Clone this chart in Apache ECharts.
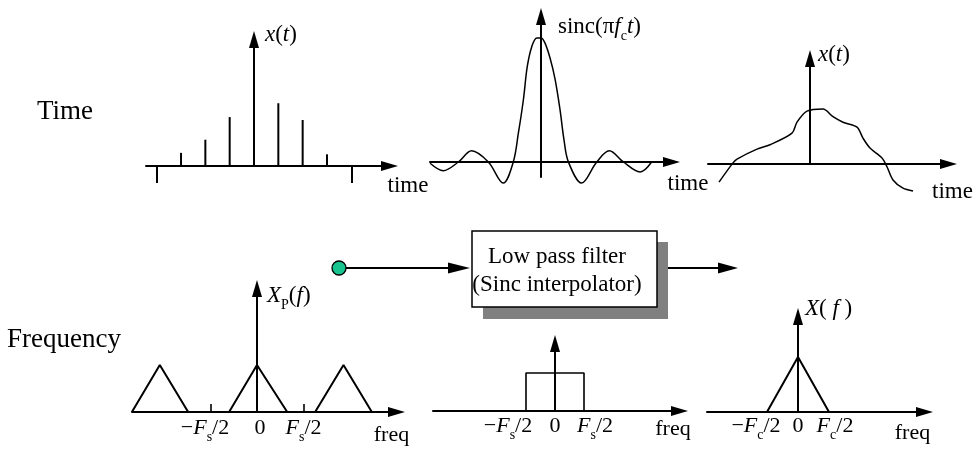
<!DOCTYPE html>
<html>
<head>
<meta charset="utf-8">
<script src="https://cdn.jsdelivr.net/npm/echarts@6/dist/echarts.min.js"></script>
<style>
  html, body { margin: 0; padding: 0; background: #fff; }
  #chart { width: 980px; height: 449px; }
</style>
</head>
<body>
<div id="chart"></div>
<script>
// ---------- time domain ----------
// sampled sequence x[n]
const sampleTimes   = [-3, -2, -1, 0, 1, 2, 3];
const sampleHeights = [0.18, 0.36, 0.67, 1.0, 0.86, 0.63, 0.16];
const sampleEdgeMarks = [-4, 4];

// sinc interpolation kernel (time in units of 1/fc)
const sincTimes  = [-3.96, -3.49, -2.95, -2.48, -1.88, -1.35, -0.99, -0.81, -0.63, -0.49, -0.33, -0.15, 0,
                    0.14, 0.32, 0.5, 0.68, 0.82, 0.98, 1.45, 1.99, 2.44, 2.94, 3.54, 3.95];
const sincValues = [-0.01, -0.07, 0, 0.09, 0, -0.17, 0, 0.23, 0.5, 0.77, 0.93, 1.0, 1.0,
                    0.96, 0.84, 0.67, 0.42, 0.18, 0, -0.17, 0, 0.09, 0, -0.08, 0];

// reconstructed continuous signal x(t)
const signalTimes  = [-4.55, -3.85, -3.65, -2.65, -2.0, -0.9, -0.65, -0.15, 0.65, 1.15, 1.65,
                      2.35, 2.65, 3.0, 3.6, 3.85, 4.15, 4.65, 5.15];
const signalValues = [-0.33, 0.02, 0.09, 0.27, 0.35, 0.56, 0.76, 0.96, 1.0, 0.86, 0.76,
                      0.67, 0.47, 0.29, 0.11, -0.05, -0.29, -0.44, -0.49];

// ---------- frequency domain ----------
// spectrum of the sampled signal (frequency in units of Fs/2), null separates the images
const sampledFreqs = [-2.69, -2.09, -1.48, null, -0.6, 0, 0.65, null, 1.25, 1.86, 2.47];
const sampledMags  = [0, 1, 0, null, 0, 1, 0, null, 0, 1, 0];
const sampledTicks = [-1, 1];
const sampledLabelValues = [-1, 0, 1];
const sampledLabels = ['{n|−}{i|F}{s|s}{n|/2}', '{n|0}', '{i|F}{s|s}{n|/2}'];

// ideal low-pass response (frequency in units of Fs/2)
const filterFreqs = [-1, -1, 1, 1];
const filterGain  = [0, 1, 1, 0];
const filterLabelValues = [-1, 0, 1];
const filterLabels = ['{n|−}{i|F}{s|s}{n|/2}', '{n|0}', '{i|F}{s|s}{n|/2}'];

// spectrum of the original signal (frequency in units of Fc/2)
const outputFreqs = [-1, 0, 1];
const outputMags  = [0, 1, 0];
const outputLabelValues = [-1, 0, 1];
const outputLabels = ['{n|−}{i|F}{s|c}{n|/2}', '{n|0}', '{i|F}{s|c}{n|/2}'];

// ---------- styling helpers ----------
const SERIF = '"Liberation Serif", "Times New Roman", serif';
const INK = '#000';

function richStyles(size) {
  const base = { fontFamily: SERIF, fontSize: size, lineHeight: size, color: INK,
                 verticalAlign: 'bottom', padding: [0, 0, 5, 0] };
  return {
    n: Object.assign({}, base),
    i: Object.assign({}, base, { fontStyle: 'italic' }),
    s: { fontFamily: SERIF, fontSize: Math.round(size * 0.62), lineHeight: Math.round(size * 0.62),
         color: INK, verticalAlign: 'bottom' }
  };
}

function pairs(xs, ys) {
  return xs.map((x, k) => (x === null ? '-' : [x, ys[k]]));
}

// tick labels that sit slightly off their value: an invisible spacer pushes them sideways
function shiftedLabels(values, labels, shifts, size) {
  const rich = richStyles(size);
  shifts.forEach((d, k) => {
    if (d) rich['g' + k] = { width: Math.abs(d) * 2, fontSize: 1 };
  });
  return {
    rich,
    formatter: v => {
      const k = values.indexOf(v);
      if (k < 0) return '';
      const d = shifts[k];
      if (!d) return labels[k];
      const gap = '{g' + k + '|\u00a0}';
      return d < 0 ? labels[k] + gap : gap + labels[k];
    }
  };
}

const axisLineStyle = { color: INK, width: 2 };

// panel frames in pixels and their data ranges
const frames = [
  { left: 146, top: 39.5, right: 389.5, bottom: 166, x: [-4.44, 5.57], y: [0, 1.733] },
  { left: 430, top: 16.5, right: 671.5, bottom: 177, x: [-3.964, 4.66], y: [-0.121, 1.173] },
  { left: 708, top: 58.5, right: 948.5, bottom: 164, x: [-5.1, 6.925], y: [0, 1.918] },
  { left: 132, top: 288.5, right: 396.5, bottom: 412, x: [-2.688, 3.0], y: [0, 2.628] },
  { left: 433, top: 343.5, right: 679.5, bottom: 411, x: [-4.207, 4.293], y: [0, 1.776] },
  { left: 707, top: 316.5, right: 924.5, bottom: 412, x: [-2.935, 4.08], y: [0, 1.736] }
];

const grids = frames.map(f => ({
  left: f.left, top: f.top, width: f.right - f.left, height: f.bottom - f.top,
  containLabel: false, outerBoundsMode: 'none', show: false
}));

function xAxisFor(i, extra) {
  const f = frames[i];
  return Object.assign({
    type: 'value', gridIndex: i, min: f.x[0], max: f.x[1],
    axisLine: { show: true, onZero: true, symbol: ['none', 'triangle'], symbolSize: [10, 17], lineStyle: axisLineStyle },
    axisTick: { show: false }, axisLabel: { show: false }, splitLine: { show: false },
    nameLocation: 'end', nameMoveOverlap: false
  }, extra);
}
function yAxisFor(i, extra) {
  const f = frames[i];
  return Object.assign({
    type: 'value', gridIndex: i, min: f.y[0], max: f.y[1],
    axisLine: { show: true, onZero: true, symbol: ['none', 'triangle'], symbolSize: [10, 17], lineStyle: axisLineStyle },
    axisTick: { show: false }, axisLabel: { show: false }, splitLine: { show: false },
    nameLocation: 'end', nameMoveOverlap: false
  }, extra);
}

// axis name placed below-left of the arrow tip
function belowName(text, size, gap, drop) {
  return { name: '{t|' + text + '}', nameGap: gap,
           nameTextStyle: { align: 'center', verticalAlign: 'middle',
                            rich: { t: { fontFamily: SERIF, fontSize: size, lineHeight: size, color: INK,
                                         padding: [drop * 2, 0, 0, 0] } } } };
}
// axis name placed right of the vertical arrow tip
function sideName(text, size, gap, dx) {
  return { name: text, nameGap: gap,
           nameTextStyle: { align: 'left', verticalAlign: 'middle', padding: [0, 0, 0, dx], rich: richStyles(size) } };
}

function labelSet(values, labels, shifts, margin) {
  return Object.assign({ show: true, customValues: values, margin: margin,
                         showMinLabel: true, showMaxLabel: true, hideOverlap: false },
                       shiftedLabels(values, labels, shifts, 22));
}

const xAxes = [
  xAxisFor(0, Object.assign(belowName('time', 23, 18.5, 20), {
    axisTick: { show: true, customValues: sampleEdgeMarks, length: 17, inside: false, lineStyle: { color: INK, width: 2 } }
  })),
  xAxisFor(1, belowName('time', 23, 16.5, 22)),
  xAxisFor(2, belowName('time', 23, 4, 28)),
  xAxisFor(3, Object.assign(belowName('freq', 22, -5, 23), {
    axisTick: { show: true, customValues: sampledTicks, length: 8, inside: true, lineStyle: { color: INK, width: 1.6 } },
    axisLabel: labelSet(sampledLabelValues, sampledLabels, [-5.5, 3, 0], 10)
  })),
  // the filter panel's labels sit wide of the passband edges; they are placed below from this axis' scale
  xAxisFor(4, belowName('freq', 22, -6.5, 18)),
  xAxisFor(5, Object.assign(belowName('freq', 22, -12, 21), {
    axisLabel: labelSet(outputLabelValues, outputLabels, [-11, 0, 6], 8)
  }))
];

const yAxes = [
  yAxisFor(0, sideName('{i|x}{n|(}{i|t}{n|)}', 23, -0.5, 11)),
  yAxisFor(1, sideName('{n|sinc(π}{i|f}{s|c}{i|t}{n|)}', 23, -15, 17)),
  yAxisFor(2, sideName('{i|x}{n|(}{i|t}{n|)}', 23, -1.5, 8)),
  yAxisFor(3, sideName('{i|X}{s|P}{n|(}{i|f}{n|)}', 23, -12, 10)),
  yAxisFor(4, {}),
  yAxisFor(5, sideName('{i|X}{n|( }{i|f}{n| )}', 23, 2.5, 7))
];

function curve(i, xs, ys, extra) {
  return Object.assign({
    type: 'line', xAxisIndex: i, yAxisIndex: i, data: pairs(xs, ys),
    symbol: 'none', clip: false, silent: true, connectNulls: false,
    lineStyle: { color: INK, width: 1.5 }
  }, extra);
}

const series = [
  { type: 'bar', xAxisIndex: 0, yAxisIndex: 0, data: pairs(sampleTimes, sampleHeights),
    barWidth: 2, itemStyle: { color: INK }, silent: true, z: 3 },
  curve(1, sincTimes, sincValues, { smooth: 0.35 }),
  curve(2, signalTimes, signalValues, { smooth: 0.3 }),
  curve(3, sampledFreqs, sampledMags, { lineStyle: { color: INK, width: 2 } }),
  curve(4, filterFreqs, filterGain, { lineStyle: { color: INK, width: 1.6 } }),
  curve(5, outputFreqs, outputMags, { lineStyle: { color: INK, width: 2 } })
];

// filter block, signal path and row titles
const graphic = [
  { type: 'text', x: 37, y: 112, style: { text: 'Time', fontFamily: SERIF, fontSize: 27, fill: INK, align: 'left', verticalAlign: 'middle' } },
  { type: 'text', x: 7, y: 340, style: { text: 'Frequency', fontFamily: SERIF, fontSize: 27, fill: INK, align: 'left', verticalAlign: 'middle' } },
  { type: 'rect', shape: { x: 483, y: 242, width: 185, height: 77 }, style: { fill: '#808080' }, z: 1 },
  { type: 'rect', shape: { x: 472, y: 231, width: 185, height: 76 }, style: { fill: '#fff', stroke: INK, lineWidth: 1.5 }, z: 2 },
  { type: 'text', x: 557, y: 257, z: 3, style: { text: 'Low pass filter', fontFamily: SERIF, fontSize: 23, fill: INK, align: 'center', verticalAlign: 'middle' } },
  { type: 'text', x: 557, y: 285, z: 3, style: { text: '(Sinc interpolator)', fontFamily: SERIF, fontSize: 23, fill: INK, align: 'center', verticalAlign: 'middle' } },
  { type: 'line', shape: { x1: 345, y1: 268, x2: 452, y2: 268 }, style: { stroke: INK, lineWidth: 2 } },
  { type: 'polygon', shape: { points: [[448, 262.5], [470, 268], [448, 273.5]] }, style: { fill: INK } },
  { type: 'circle', shape: { cx: 339, cy: 268, r: 7 }, style: { fill: '#17c48f', stroke: INK, lineWidth: 1.3 }, z: 3 },
  { type: 'line', shape: { x1: 657, y1: 268, x2: 722, y2: 268 }, style: { stroke: INK, lineWidth: 2 } },
  { type: 'polygon', shape: { points: [[718, 262.5], [738, 268], [718, 273.5]] }, style: { fill: INK } }
];

const chart = echarts.init(document.getElementById('chart'), null, { renderer: 'canvas' });
chart.setOption({
  backgroundColor: '#fff',
  animation: false,
  textStyle: { fontFamily: SERIF, color: INK },
  grid: grids,
  xAxis: xAxes,
  yAxis: yAxes,
  series: series,
  graphic: graphic
});

// filter panel tick labels: anchored at the passband values, nudged outward so they clear the "0"
const filterLabelNudge = [-18, 0, 11];
const filterLabelTexts = filterLabelValues.map((v, k) => {
  const p = chart.convertToPixel({ xAxisIndex: 4, yAxisIndex: 4 }, [v, 0]);
  return { type: 'text', x: p[0] + filterLabelNudge[k], y: p[1] + 9, z: 5,
           style: { text: filterLabels[k], rich: richStyles(22), align: 'center', verticalAlign: 'top' } };
});
chart.setOption({ graphic: graphic.concat(filterLabelTexts) });
</script>
</body>
</html>
